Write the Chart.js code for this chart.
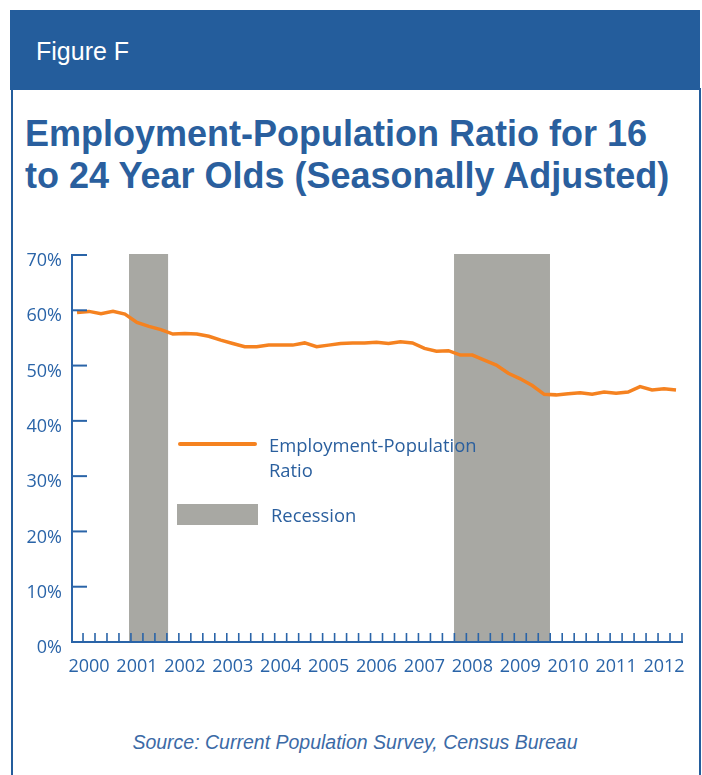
<!DOCTYPE html>
<html>
<head>
<meta charset="utf-8">
<title>Figure F</title>
<script src="https://cdn.jsdelivr.net/npm/chart.js@4.4.1/dist/chart.umd.min.js"></script>
<style>
  body { margin: 0; background: #fff; }
  #page { position: relative; width: 702px; height: 775px; overflow: hidden; font-family: "Liberation Sans", Arial, sans-serif; }
  #header { position: absolute; left: 10px; top: 10px; width: 690px; height: 80px; background: #245d9c; }
  #header span { position: absolute; left: 26px; top: 26px; color: #fff; font-size: 25px; line-height: 30px; }
  #frame { position: absolute; left: 11px; top: 88px; width: 686px; height: 700px; border-left: 2px solid #245d9c; border-right: 2px solid #245d9c; }
  #title { position: absolute; left: 25px; top: 113px; font-weight: bold; font-size: 36px; line-height: 42px; color: #2a5f9e; white-space: nowrap; }
  #chartBox { position: absolute; left: 0; top: 230px; width: 702px; height: 460px; }
  .legendText { position: absolute; font-family: "Open Sans", sans-serif; font-size: 18.4px; line-height: 25px; color: #2a5f9e; white-space: nowrap; }
  #source { position: absolute; left: 12px; width: 686px; top: 730px; text-align: center; font-style: italic; font-size: 19.5px; line-height: 24px; color: #3b6aa6; }
</style>
</head>
<body>
<div id="page">
  <div id="header"><span>Figure F</span></div>
  <div id="frame"></div>
  <div id="title">Employment-Population Ratio for 16<br>to 24 Year Olds (Seasonally Adjusted)</div>
  <div id="chartBox"><canvas id="chart"></canvas></div>

  <div style="position:absolute; left:178px; top:442px; width:79px; height:4px; background:#f58220; border-radius:2px;"></div>
  <div class="legendText" style="left:269px; top:432px;">Employment-Population<br>Ratio</div>
  <div style="position:absolute; left:177px; top:504px; width:81px; height:21px; background:#a8a8a3;"></div>
  <div class="legendText" style="left:271px; top:502px;">Recession</div>

  <div id="source">Source: Current Population Survey, Census Bureau</div>
</div>

<script>
/* Data */
const yearLabels = ["2000", "2001", "2002", "2003", "2004", "2005", "2006",
  "2007", "2008", "2009", "2010", "2011", "2012"];

// quarterly points, 2000 Q1 .. 2012 Q3
const quarterLabels = yearLabels
  .flatMap((y) => [y + " Q1", y + " Q2", y + " Q3", y + " Q4"])
  .slice(0, 51);

const ratioValues = [
  59.6, 59.8, 59.4, 59.8, 59.3, 57.8, 57.1, 56.5,
  55.7, 55.8, 55.7, 55.3, 54.6, 54.0, 53.4, 53.4,
  53.7, 53.7, 53.7, 54.1, 53.4, 53.7, 54.0, 54.1,
  54.1, 54.2, 54.0, 54.3, 54.1, 53.1, 52.6, 52.7,
  51.9, 51.9, 51.0, 50.1, 48.6, 47.6, 46.4, 44.8,
  44.7, 44.9, 45.1, 44.8, 45.2, 45.0, 45.2, 46.2,
  45.6, 45.8, 45.6
];

// recession spans, in quarter positions
const recessionStart = [4.34, 31.47];
const recessionEnd = [7.6, 39.48];

/* Colors */
const BLUE = "#2a64a8";
const ORANGE = "#f58220";
const GRAY = "#a8a8a3";

/* Axes + recession bars */
const axisPlugin = {
  id: "axisPlugin",
  beforeDatasetsDraw(chart) {
    const { ctx, chartArea, scales } = chart;
    ctx.save();
    ctx.fillStyle = GRAY;
    recessionStart.forEach((s, i) => {
      const x1 = scales.x.getPixelForValue(s);
      const x2 = scales.x.getPixelForValue(recessionEnd[i]);
      ctx.fillRect(x1, chartArea.top - 1, x2 - x1, chartArea.bottom - chartArea.top + 1);
    });
    ctx.restore();
  },
  afterDatasetsDraw(chart) {
    const { ctx, chartArea, scales } = chart;
    const left = chartArea.left;
    const bottom = chartArea.bottom;

    ctx.save();
    ctx.strokeStyle = BLUE;
    ctx.lineWidth = 2;

    // y axis line and inward ticks
    ctx.beginPath();
    ctx.moveTo(left, bottom);
    ctx.lineTo(left, scales.y.getPixelForValue(70) - 1);
    ctx.stroke();

    scales.y.ticks.forEach((t) => {
      if (t.value === 0) return;
      const py = scales.y.getPixelForValue(t.value);
      ctx.beginPath();
      ctx.moveTo(left - 1, py);
      ctx.lineTo(left + 15, py);
      ctx.stroke();
    });

    // x axis line and quarter ticks
    ctx.beginPath();
    ctx.moveTo(left - 1, bottom);
    ctx.lineTo(chartArea.right + 1, bottom);
    ctx.stroke();

    ctx.lineWidth = 1.6;
    scales.x.ticks.forEach((t) => {
      const px = scales.x.getPixelForValue(t.value);
      ctx.beginPath();
      ctx.moveTo(px, bottom);
      ctx.lineTo(px, bottom - 9);
      ctx.stroke();
    });
    ctx.restore();
  }
};

/* Chart */
const chart = new Chart(document.getElementById("chart"), {
  type: "line",
  data: {
    labels: quarterLabels,
    datasets: [
      {
        label: "Employment-Population Ratio",
        data: ratioValues.map((v, i) => ({ x: i, y: v })),
        borderColor: ORANGE,
        borderWidth: 3.5,
        pointRadius: 0,
        tension: 0,
        fill: false
      }
    ]
  },
  options: {
    responsive: true,
    maintainAspectRatio: false,
    animation: false,
    devicePixelRatio: 1,
    layout: {
      padding: { left: 0, right: 20, top: 25, bottom: 0 }
    },
    plugins: {
      legend: { display: false },
      tooltip: { enabled: false }
    },
    scales: {
      x: {
        type: "linear",
        min: -0.42,
        max: 50.5,
        grid: { display: false, drawTicks: false },
        border: { display: false },
        afterBuildTicks: (scale) => {
          scale.ticks = quarterLabels.map((q, i) => ({ value: i + 0.5 }));
        },
        afterFit: (scale) => {
          scale.height = 48;
        },
        ticks: {
          autoSkip: false,
          maxRotation: 0,
          minRotation: 0,
          padding: 14,
          labelOffset: 6,
          color: BLUE,
          font: { family: "Open Sans", size: 18 },
          callback: function (value, index) {
            return index % 4 === 0 ? yearLabels[index / 4] : "";
          }
        }
      },
      y: {
        min: 0,
        max: 70,
        grid: { display: false, drawTicks: false },
        border: { display: false },
        afterFit: (scale) => {
          scale.width = 72;
        },
        ticks: {
          stepSize: 10,
          padding: 10,
          labelOffset: 6,
          color: BLUE,
          font: { family: "Open Sans", size: 18 },
          callback: function (value) {
            return value + "%";
          }
        }
      }
    }
  },
  plugins: [axisPlugin]
});
</script>
</body>
</html>
